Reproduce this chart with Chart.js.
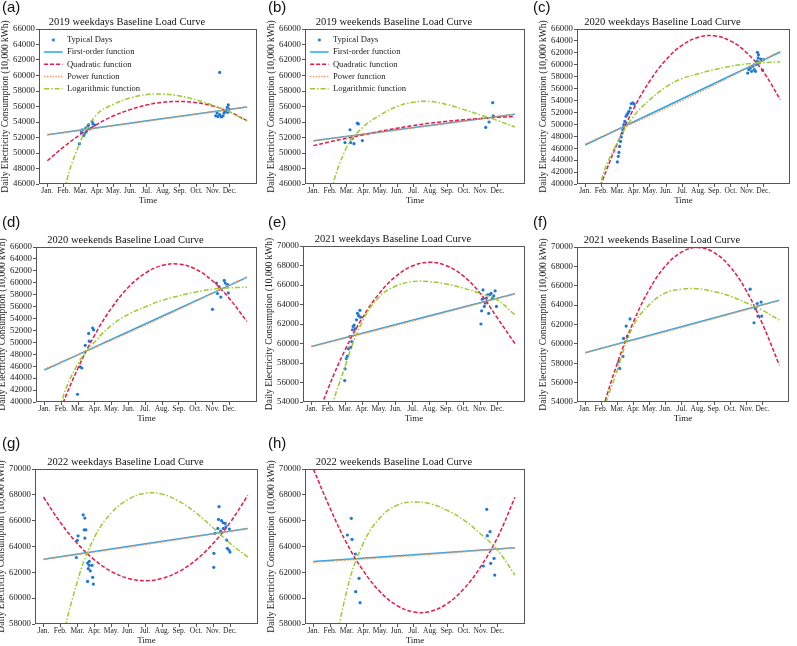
<!DOCTYPE html>
<html>
<head>
<meta charset="utf-8">
<script src="https://cdn.jsdelivr.net/npm/chart.js@4.4.1/dist/chart.umd.min.js"></script>
<style>
  body { margin: 0; background: #fff; }
  #wrap { position: relative; width: 797px; height: 646px; overflow: hidden; }
  #wrap canvas { position: absolute; }
  .tag { position: absolute; font-family: "Liberation Sans", Arial, sans-serif; font-size: 15px; color: #111; line-height: 18px; }
</style>
</head>
<body>
<div id="wrap"></div>
<script>
// month ticks and shared x positions of the fitted curves
const months = ['Jan.', 'Feb.', 'Mar.', 'Apr.', 'May.', 'Jun.', 'Jul.', 'Aug.', 'Sep.', 'Oct.', 'Nov.', 'Dec.'];
const fitX = [1, 2, 3, 4, 5, 6, 7, 8, 9, 10, 11, 12, 13.05];
const lineX = [1, 13.05];
const powX = [1, 7, 13.05];
const seriesNames = ['Typical Days', 'First-order function', 'Quadratic function', 'Power function', 'Logarithmic function'];

// y axis ranges (tick step 2000)
const yRange2019 = [46000, 66000];
const yRange2020 = [40000, 66000];
const yRange2021 = [54000, 70000];
const yRange2022 = [58000, 70000];
const yStep = 2000;

// (a) 2019 weekdays
const aDayX = [2.94, 3.06, 3.1, 3.2, 3.26, 3.32, 3.36, 3.44, 3.5, 3.56, 3.7, 3.76, 3.86, 11.4, 11.16, 11.24, 11.3, 11.4, 11.5, 11.6, 11.66, 11.72, 11.8, 11.86, 11.92, 11.96, 11.88];
const aDayY = [51200, 52650, 53000, 52250, 52550, 53200, 52800, 53450, 53650, 53100, 54050, 53750, 53600, 60400, 54800, 55150, 54700, 54950, 54650, 54800, 55150, 55350, 55550, 55900, 56200, 55650, 55250];
const aLinY = [52350, 55950];
const aQuadY = [49000, 50800, 52400, 53700, 54800, 55600, 56200, 56550, 56650, 56500, 56050, 55300, 54150];
const aPowY = [52350, 54100, 55950];
const aLogY = [25000, 44500, 51500, 55000, 56300, 57100, 57550, 57600, 57350, 56850, 56150, 55300, 54150];

// (b) 2019 weekends
const bDayX = [2.89, 3.19, 3.23, 3.33, 3.43, 3.63, 3.69, 3.93, 11.3, 11.5, 11.72, 11.76];
const bDayY = [51350, 53000, 51350, 51900, 51200, 53850, 53750, 51600, 53300, 54000, 56500, 54800];
const bLinY = [51580, 55000];
const bQuadY = [50950, 51450, 51900, 52350, 52800, 53200, 53550, 53850, 54100, 54300, 54450, 54600, 54700];
const bPowY = [51550, 53250, 55000];
const bLogY = [25000, 44000, 50800, 53400, 54900, 56000, 56550, 56650, 56250, 55600, 54900, 54200, 53350];

// (c) 2020 weekdays
const cDayX = [2.99, 3.05, 3.09, 3.13, 3.19, 3.23, 3.29, 3.33, 3.39, 3.45, 3.53, 3.59, 3.65, 3.71, 3.79, 3.85, 3.95, 4.03, 11.04, 11.1, 11.2, 11.28, 11.36, 11.44, 11.52, 11.56, 11.62, 11.68, 11.64, 11.7, 11.76, 11.84, 11.88, 11.96, 12.0];
const cDayY = [43700, 44650, 45300, 46300, 47150, 47900, 48550, 49100, 49950, 50500, 51350, 51650, 51900, 52200, 52750, 53500, 53600, 53400, 58600, 59200, 59450, 58900, 59750, 59200, 58900, 60050, 60600, 61150, 62100, 61700, 60300, 60950, 60700, 59100, 60850];
const cLinY = [46550, 62150];
const cQuadY = [32000, 40000, 46870, 52640, 57300, 60850, 63300, 64630, 64850, 63960, 61960, 58850, 54160];
const cPowY = [46700, 54000, 62300];
const cLogY = [25000, 40500, 47000, 51350, 54150, 56300, 57700, 58500, 59200, 59750, 60150, 60350, 60500];

// (d) 2020 weekends
const dDayX = [2.97, 3.13, 3.23, 3.43, 3.63, 3.67, 3.87, 3.93, 11.0, 11.24, 11.3, 11.4, 11.5, 11.7, 11.76, 11.9, 11.94];
const dDayY = [41300, 45900, 45700, 49500, 51500, 50200, 52400, 52100, 55550, 59950, 58200, 59300, 57600, 60400, 59950, 59700, 58300];
const dLinY = [45350, 60900];
const dQuadY = [31330, 39050, 45700, 51270, 55790, 59240, 61600, 62900, 63120, 62280, 60330, 57370, 53500];
const dPowY = [45500, 52900, 61000];
const dLogY = [25000, 39700, 46450, 50100, 52900, 54700, 55950, 57050, 57800, 58450, 58900, 59150, 59250];

// (e) 2021 weekdays
const eDayX = [2.97, 2.99, 3.07, 3.13, 3.19, 3.27, 3.33, 3.39, 3.43, 3.47, 3.53, 3.59, 3.67, 3.73, 3.79, 3.87, 3.91, 11.04, 11.08, 11.12, 11.16, 11.24, 11.3, 11.36, 11.44, 11.5, 11.56, 11.64, 11.72, 11.8, 11.88, 11.96];
const eDayY = [56200, 57400, 58450, 58700, 59450, 60700, 59600, 60200, 61400, 61750, 61900, 61500, 62430, 63100, 62850, 63400, 62700, 62000, 63350, 64550, 65500, 63800, 64150, 64650, 65000, 63100, 65000, 65150, 64650, 64900, 65400, 63800];
const eLinY = [59700, 65100];
const eQuadY = [50800, 55440, 59370, 62580, 65100, 66890, 67970, 68330, 67980, 66920, 65140, 62650, 60000];
const ePowY = [59700, 62300, 65100];
const eLogY = [30000, 51500, 57700, 62200, 64750, 65900, 66350, 66350, 66100, 65670, 65150, 64480, 62940];

// (f) 2021 weekends
const fDayX = [3.09, 3.15, 3.35, 3.39, 3.55, 3.63, 3.79, 11.24, 11.48, 11.56, 11.68, 11.72, 11.92, 11.96];
const fDayY = [58160, 57470, 58700, 60560, 61840, 60800, 62580, 65650, 62180, 63660, 64170, 62870, 64310, 62870];
const fLinY = [59090, 64500];
const fQuadY = [46330, 52650, 57990, 62270, 65660, 68060, 69490, 69950, 69430, 67950, 65490, 62080, 57800];
const fPowY = [59090, 61700, 64500];
const fLogY = [28000, 51500, 57300, 61900, 64070, 65270, 65650, 65680, 65400, 64930, 64240, 63480, 62450];

// (g) 2022 weekdays
const gDayX = [2.94, 3.0, 3.04, 3.34, 3.44, 3.4, 3.5, 3.44, 3.6, 3.64, 3.7, 3.7, 3.76, 3.86, 3.6, 3.9, 3.94, 11.35, 11.32, 11.5, 11.6, 11.72, 11.28, 11.6, 11.76, 11.96, 11.11, 11.8, 11.84, 11.94, 12.0, 11.05, 11.04, 11.45];
const gDayY = [63150, 64470, 64830, 66450, 66200, 65290, 65290, 64650, 62720, 62280, 62850, 62540, 62120, 62540, 61300, 61610, 61090, 67080, 66100, 66000, 65840, 65790, 65400, 65400, 65530, 65350, 65020, 64500, 63860, 63730, 63570, 63470, 62390, 65200];
const gLinY = [63020, 65400];
const gQuadY = [67830, 65850, 64230, 62970, 62070, 61530, 61350, 61530, 62070, 62970, 64230, 65850, 67960];
const gPowY = [63000, 64150, 65400];
const gLogY = [40000, 55500, 61300, 64700, 66600, 67650, 68120, 68050, 67500, 66600, 65450, 64250, 63180];

// (h) 2022 weekends
const hDayX = [3.03, 3.27, 3.31, 3.51, 3.73, 3.53, 3.79, 11.16, 11.36, 11.4, 11.56, 11.6, 11.8, 11.84];
const hDayY = [64890, 66180, 64550, 63420, 61540, 60500, 59650, 62490, 66880, 64840, 65150, 62700, 63080, 61790];
const hLinY = [62830, 63910];
const hQuadY = [70000, 66960, 64240, 62090, 60480, 59430, 58930, 58980, 59580, 60730, 62440, 64680, 67810];
const hPowY = [62780, 63300, 63900];
const hLogY = [40000, 53500, 60600, 64300, 66250, 67200, 67450, 67300, 66800, 66050, 64970, 63730, 61790];

const SERIF = '"Liberation Serif", "Times New Roman", serif';
const COL = { days: '#1f78d8', lin: '#22a7e8', quad: '#e8194b', pow: '#f7955a', log: '#9acd32' };

// plot boxes [left, top, right, bottom] in page pixels
const panels = [
  { tag: '(a)', title: '2019 weekdays Baseline Load Curve', box: [39, 29, 257, 184], y: yRange2019, dx: aDayX, dy: aDayY, lin: aLinY, quad: aQuadY, pow: aPowY, log: aLogY, legend: true },
  { tag: '(b)', title: '2019 weekends Baseline Load Curve', box: [305, 29, 525, 184], y: yRange2019, dx: bDayX, dy: bDayY, lin: bLinY, quad: bQuadY, pow: bPowY, log: bLogY, legend: true },
  { tag: '(c)', title: '2020 weekdays Baseline Load Curve', box: [577, 29, 790, 184], y: yRange2020, dx: cDayX, dy: cDayY, lin: cLinY, quad: cQuadY, pow: cPowY, log: cLogY },
  { tag: '(d)', title: '2020 weekends Baseline Load Curve', box: [36, 247, 257, 402], y: yRange2020, dx: dDayX, dy: dDayY, lin: dLinY, quad: dQuadY, pow: dPowY, log: dLogY },
  { tag: '(e)', title: '2021 weekdays Baseline Load Curve', box: [303, 246, 525, 402], y: yRange2021, dx: eDayX, dy: eDayY, lin: eLinY, quad: eQuadY, pow: ePowY, log: eLogY },
  { tag: '(f)', title: '2021 weekends Baseline Load Curve', box: [577, 247, 789, 402], y: yRange2021, dx: fDayX, dy: fDayY, lin: fLinY, quad: fQuadY, pow: fPowY, log: fLogY },
  { tag: '(g)', title: '2022 weekdays Baseline Load Curve', box: [35, 469, 258, 624], y: yRange2022, dx: gDayX, dy: gDayY, lin: gLinY, quad: gQuadY, pow: gPowY, log: gLogY },
  { tag: '(h)', title: '2022 weekends Baseline Load Curve', box: [305, 469, 525, 624], y: yRange2022, dx: hDayX, dy: hDayY, lin: hLinY, quad: hQuadY, pow: hPowY, log: hLogY }
];
const tagPos = [[2, -2], [268, -2], [533, -2], [2, 213], [268, 213], [533, 213], [2, 434], [268, 434]];

const Y_W = 42, X_H = 28, TOP_H = 26, PAD_R = 4;

// small dot used as legend marker for the scatter series
const dot = document.createElement('canvas');
dot.width = 5; dot.height = 5;
const dctx = dot.getContext('2d');
dctx.fillStyle = COL.days;
dctx.beginPath(); dctx.arc(2.5, 2.5, 1.6, 0, Math.PI * 2); dctx.fill();

const pts = (xs, ys) => xs.map((x, i) => ({ x: x, y: ys[i] }));

const framePlugin = {
  id: 'frame',
  afterDraw(chart) {
    const { ctx, chartArea: a } = chart;
    ctx.save();
    ctx.strokeStyle = '#555';
    ctx.lineWidth = 1;
    ctx.strokeRect(Math.round(a.left) + 0.5, Math.round(a.top) + 0.5, Math.round(a.right - a.left) - 1, Math.round(a.bottom - a.top) - 1);
    ctx.restore();
  }
};

// legend in the chart area: chart.js resets its top to 0, put it back inside the plot
const legendShift = {
  id: 'legendShift',
  afterLayout(chart) {
    const lg = chart.legend;
    if (lg && chart.options.plugins.legend.display) {
      const a = chart.chartArea;
      lg.left = a.left + 1.5;
      lg.top = a.top + 3;
      lg.bottom = a.bottom;
      lg.right = a.right;
    }
  }
};

const wrap = document.getElementById('wrap');

panels.forEach((p, k) => {
  const [L, T, R, B] = p.box;
  const cv = document.createElement('canvas');
  const w = R - L + Y_W + PAD_R, h = B - T + TOP_H + X_H;
  cv.width = w; cv.height = h;
  cv.style.left = (L - Y_W) + 'px';
  cv.style.top = (T - TOP_H) + 'px';
  cv.style.width = w + 'px'; cv.style.height = h + 'px';
  wrap.appendChild(cv);

  const tag = document.createElement('div');
  tag.className = 'tag';
  tag.textContent = p.tag;
  tag.style.left = tagPos[k][0] + 'px';
  tag.style.top = tagPos[k][1] + 'px';
  wrap.appendChild(tag);

  const curve = { showLine: true, pointRadius: 0, borderWidth: 1.5, tension: 0.4, fill: false, capBezierPoints: false };

  new Chart(cv, {
    type: 'scatter',
    data: {
      datasets: [
        { label: seriesNames[0], data: pts(p.dx, p.dy), pointRadius: 1.6, pointBorderWidth: 0, backgroundColor: COL.days, borderColor: COL.days, order: 4 },
        Object.assign({ label: seriesNames[1], data: pts(lineX, p.lin), borderColor: COL.lin, order: 3 }, curve),
        Object.assign({ label: seriesNames[2], data: pts(fitX, p.quad), borderColor: COL.quad, borderDash: [4, 2], order: 2 }, curve),
        Object.assign({ label: seriesNames[3], data: pts(powX, p.pow), borderColor: COL.pow, borderDash: [1.4, 1.4], order: 1 }, curve),
        Object.assign({ label: seriesNames[4], data: pts(fitX, p.log), borderColor: COL.log, borderDash: [5, 2, 1.5, 2], order: 0 }, curve)
      ]
    },
    options: {
      responsive: false,
      animation: false,
      layout: { padding: { left: 0, right: PAD_R, top: 0, bottom: 0 } },
      scales: {
        x: {
          type: 'linear', min: 0.5, max: 13.65,
          afterBuildTicks: s => { s.ticks = months.map((m, i) => ({ value: i + 1 })); },
          afterFit: s => { s.height = X_H; },
          ticks: { autoSkip: false, maxRotation: 0, minRotation: 0, padding: 0, color: '#222', font: { family: SERIF, size: 7.5 }, callback: v => months[Math.round(v) - 1] },
          grid: { drawOnChartArea: false, drawTicks: true, tickLength: 3, color: '#555' },
          border: { display: false },
          title: { display: true, text: 'Time', color: '#222', font: { family: SERIF, size: 9 }, padding: { top: 0, bottom: 5.6 } }
        },
        y: {
          type: 'linear', min: p.y[0], max: p.y[1],
          afterFit: s => { s.width = Y_W; },
          ticks: { stepSize: yStep, autoSkip: false, padding: 1, color: '#222', font: { family: SERIF, size: 8.8 }, callback: v => String(v) },
          grid: { drawOnChartArea: false, drawTicks: true, tickLength: 3, color: '#555' },
          border: { display: false },
          title: { display: true, text: 'Daily Electricity Consumption (10,000 kWh)', color: '#222', font: { family: SERIF, size: 9.5 }, padding: { top: 2.3, bottom: 0 } }
        }
      },
      plugins: {
        tooltip: { enabled: false },
        title: { display: true, text: p.title, color: '#111', font: { family: SERIF, size: 10.5, weight: 'normal' }, padding: { top: 13.4, bottom: 0 } },
        legend: {
          display: !!p.legend,
          position: 'chartArea',
          align: 'start',
          labels: {
            usePointStyle: true,
            pointStyleWidth: 18.5,
            padding: 3.6,
            color: '#222',
            font: { family: SERIF, size: 8.6 },
            sort: (a, b) => a.datasetIndex - b.datasetIndex,
            generateLabels(chart) {
              const items = Chart.defaults.plugins.legend.labels.generateLabels(chart);
              items.forEach(it => {
                const ds = chart.data.datasets[it.datasetIndex];
                if (it.datasetIndex === 0) {
                  it.pointStyle = dot;
                } else {
                  it.pointStyle = 'line';
                  it.lineDash = ds.borderDash || [];
                  it.lineWidth = ds.borderWidth;
                  it.strokeStyle = ds.borderColor;
                }
              });
              return items;
            }
          }
        }
      }
    },
    plugins: [framePlugin, legendShift]
  });
});
</script>
</body>
</html>
